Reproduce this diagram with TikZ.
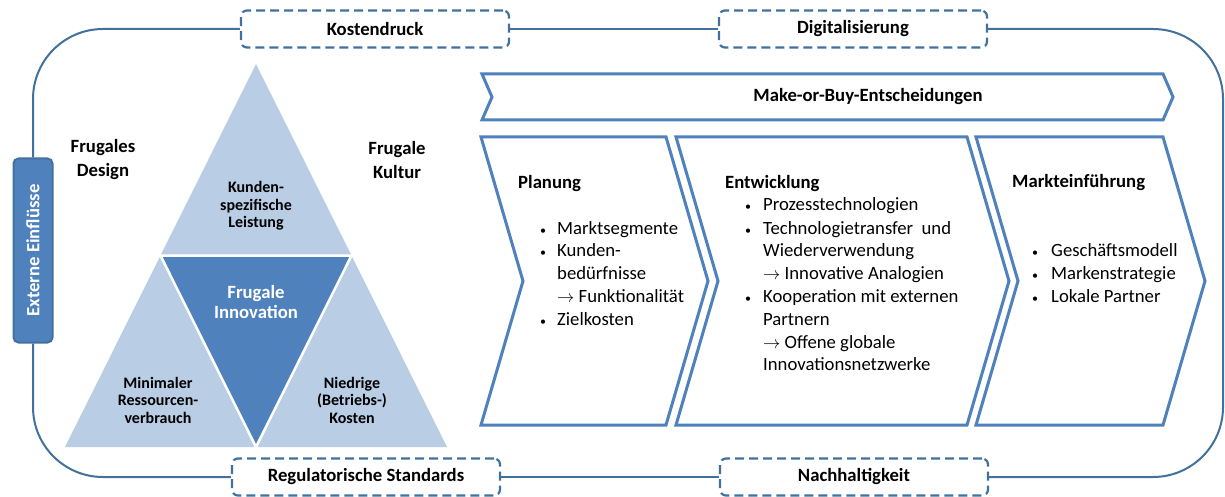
\documentclass[tikz,border=0pt]{standalone}
\usepackage{fontspec}
\setmainfont{Carlito}
\usetikzlibrary{calc}
\definecolor{lineblue}{HTML}{41719C}
\definecolor{chevblue}{HTML}{4F81BD}
\definecolor{lightblue}{HTML}{B9CDE5}
\definecolor{darkblue}{HTML}{4F81BD}
\newcommand{\mainsize}{\fontsize{18.7}{22.7}\selectfont}
\tikzstyle{factor}=[draw=lineblue,dash pattern=on 9pt off 5pt,line width=2.2pt,rounded corners=6pt,fill=white,minimum width=268pt,minimum height=37pt,font=\mainsize\bfseries]
\tikzstyle{extbox}=[draw=lineblue,fill=darkblue,line width=2pt,rounded corners=5pt,rotate=90,minimum width=184pt,minimum height=39pt,text=white,font=\mainsize\bfseries]
\tikzstyle{loopline}=[draw=lineblue,line width=2pt,rounded corners=70pt]
\tikzstyle{phase}=[draw=chevblue,line width=3pt,fill=white,line join=miter]
\tikzstyle{trilabel}=[font=\fontsize{16}{17.5}\selectfont\bfseries,align=center]
\tikzstyle{head}=[font=\mainsize\bfseries,anchor=mid west,inner sep=0pt]
\tikzstyle{item}=[font=\mainsize,anchor=mid west,inner sep=0pt]
\tikzstyle{dot}=[font=\fontsize{12}{12}\selectfont,anchor=center,inner sep=0pt]

\begin{document}
\begin{tikzpicture}[x=1pt,y=-1pt,font=\mainsize]
    \useasboundingbox[fill=white] (0,0) rectangle (1225,497);
    % First we draw the triangle
    \coordinate (apex) at (256,64);
    \coordinate (bl) at (65,447);
    \coordinate (br) at (447,447);
    \coordinate (ml) at (160.5,255.5);
    \coordinate (mr) at (351.5,255.5);
    \coordinate (bm) at (256,447);
    \fill[lightblue] (apex) -- (bl) -- (br) -- cycle;
    \draw[fill=darkblue,draw=white,line width=2.5pt] (ml) -- (mr) -- (bm) -- cycle;

    \node[trilabel] (kunde) at (256,206) {Kunden-\\spezifische\\Leistung};
    \node[trilabel,font=\fontsize{18.7}{20}\selectfont\bfseries,text=white] (inno) at (256,302) {Frugale\\Innovation};
    \node[trilabel] (ress) at (158,400) {Minimaler\\Ressourcen-\\verbrauch};
    \node[trilabel] (kost) at (352,400) {Niedrige\\(Betriebs-)\\Kosten};
    \node[trilabel,font=\fontsize{18.7}{24}\selectfont\bfseries] (design) at (103,160) {Frugales\\Design};
    \node[trilabel,font=\fontsize{18.7}{24}\selectfont\bfseries] (kultur) at (397,160) {Frugale\\Kultur};

    % External factors and the loop around them
    \foreach \pos/\name/\txt in {{(375,29)/kosten/Kostendruck},{(853,29)/digi/Digitalisierung},{(366,477)/reg/Regulatorische Standards},{(854,477)/nach/Nachhaltigkeit}}
        \node[factor] (\name) at \pos {\txt};
    \node[extbox] (ext) at (33,250.5) {Externe Einflüsse};
    \coordinate (rside) at (1223,250);

    \draw[loopline] (ext.east) |- (kosten.west);
    \draw[loopline] (kosten.east) -- (digi.west);
    \draw[loopline] (digi.east) -| (rside) |- (nach.east);
    \draw[loopline] (nach.west) -- (reg.east);
    \draw[loopline] (reg.west) -| (ext.west);

    % Make-or-Buy banner
    \draw[phase] (482,74) -- (1163,74) -- (1173,97) -- (1163,120) -- (482,120) -- (492,97) -- cycle;
    \node[font=\mainsize\bfseries] (mob) at (868,97) {Make-or-Buy-Entscheidungen};

    % Then the three phases
    \foreach \x/\w in {481/185, 676/291, 976/187}
        \draw[phase] (\x,137) -- ({\x+\w},137) -- ({\x+\w+42},281) -- ({\x+\w},425) -- (\x,425) -- ({\x+42},281) -- cycle;

    \node[head] (plan) at (518,186) {Planung};
    \foreach \y/\txt [count=\i] in {232/Marktsegmente, 254/Kunden-, 277/bedürfnisse, 300/{$\rightarrow$ Funktionalität}, 323/Zielkosten}
        \node[item] (plan\i) at (557,\y) {\txt};
    \foreach \y [count=\i] in {232,254,323}
        \node[dot] (plandot\i) at (543,\y) {•};

    \node[head] (entw) at (725,186) {Entwicklung};
    \foreach \y/\txt [count=\i] in {208/Prozesstechnologien, 232/Technologietransfer\ \ und, 254/Wiederverwendung, 277/{$\rightarrow$ Innovative Analogien}, 300/Kooperation\ mit externen, 323/Partnern, 346/{$\rightarrow$ Offene globale}, 368/Innovationsnetzwerke}
        \node[item] (entw\i) at (763,\y) {\txt};
    \foreach \y [count=\i] in {208,232,300}
        \node[dot] (entwdot\i) at (748,\y) {•};

    \node[head] (markt) at (1012,185) {Markteinführung};
    \foreach \y/\txt [count=\i] in {254/Geschäftsmodell, 277/Markenstrategie, 300/Lokale Partner}
    {
        \node[item] (markt\i) at (1051,\y) {\txt};
        \node[dot] (marktdot\i) at (1035,\y) {•};
    }
\end{tikzpicture}
\end{document}
